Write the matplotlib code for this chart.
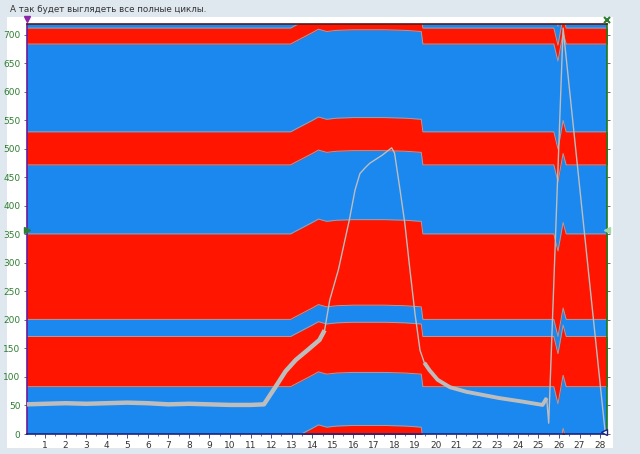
import matplotlib
matplotlib.use('Agg')
import matplotlib.pyplot as plt
import numpy as np

# band boundaries (values at the flat parts) and the common shift of all boundaries along x
base_levels = [-10, 83, 171, 201, 351, 472, 530, 684, 712, 745]
red_pairs = [(-200, -10), (83, 171), (201, 351), (472, 530), (684, 712), (745, 900)]
shift_x = [0.1, 12.95, 13.1, 14.0, 14.3, 14.7, 15.2, 16.0, 17.5, 18.5, 19.3, 19.38,
           25.75, 25.95, 26.1, 26.2, 26.35, 28.35]
shift_y = [0, 0, 3, 20, 26, 22, 24, 25, 25, 24, 22, 0,
           0, -30, 0, 20, 0, 0]

# gray trace
gray_x = [0.1, 1.0, 2.0, 3.0, 4.0, 5.0, 6.0, 7.0, 8.0, 9.0, 10.0, 11.0, 11.65,
          12.2, 12.7, 13.2, 13.8, 14.35, 14.6, 14.85, 15.27, 15.8, 16.08, 16.32,
          16.6, 16.8, 17.4, 17.86, 18.0, 18.27, 18.5, 18.75, 19.0, 19.24, 19.45,
          19.7, 20.1, 20.7, 21.5, 23.1, 24.2, 25.2, 25.4, 25.5, 26.2, 28.25]
gray_y = [52, 53, 54, 53, 54, 55, 54, 52, 53, 52, 51, 51, 52,
          82, 110, 130, 148, 165, 182, 235, 288, 375, 428, 457,
          468, 475, 489, 502, 493, 428, 370, 288, 210, 147, 125,
          112, 95, 82, 74, 63, 57, 51, 63, 19, 712, 2]

x_ticks = list(range(1, 29))
y_ticks = list(range(0, 701, 50))

RED = '#ff1500'
BLUE = '#1a88ee'
EDGE = '#b09c9c'
TRACE = '#bdbdbd'

fig = plt.figure(figsize=(6.4, 4.54), dpi=100, facecolor='#dfe7ef')
# white panel behind the chart
panel = fig.add_axes([7 / 640, 6 / 454, 606 / 640, 431 / 454], zorder=-5)
panel.set_facecolor('white')
panel.set_xticks([])
panel.set_yticks([])
for s in panel.spines.values():
    s.set_visible(False)

fig.text(10 / 640, 1 - 10 / 454, 'А так будет выглядеть все полные циклы.',
         fontsize=6.3, color='#333333', va='center', ha='left')

ax = fig.add_axes([26.7 / 640, 20 / 454, 580.6 / 640, 410.5 / 454])
ax.set_facecolor(BLUE)

sx = np.array(shift_x)
sy = np.array(shift_y)
for lo, hi in red_pairs:
    ax.fill_between(sx, lo + sy, hi + sy, color=RED, linewidth=0, zorder=1)
for b in base_levels:
    ax.plot(sx, b + sy, color=EDGE, lw=0.7, zorder=2)

gx = np.array(gray_x)
gy = np.array(gray_y)
ax.plot(gx, gy, color=TRACE, lw=1.0, zorder=3)
thick1 = gx <= 14.6
thick2 = (gx >= 19.45) & (gx <= 25.4)
ax.plot(gx[thick1], gy[thick1], color=TRACE, lw=3.2, zorder=3,
        solid_capstyle='butt')
ax.plot(gx[thick2], gy[thick2], color=TRACE, lw=2.8, zorder=3,
        solid_capstyle='butt')

ax.set_xlim(0.11, 28.35)
ax.set_ylim(0, 720)
ax.set_xticks(x_ticks)
ax.set_xticks(np.arange(0.5, 28.4, 0.5), minor=True)
ax.set_yticks(y_ticks)
ax.tick_params(axis='x', labelsize=6.5, labelcolor='#333333', length=3,
               width=0.6, color='#333366', pad=2)
ax.tick_params(axis='x', which='minor', length=1.5, width=0.5, color='#333366')
ax.tick_params(axis='y', labelsize=6.5, labelcolor='#2e7d32', length=2.5,
               width=0.6, color='#555555', pad=2)
ax.tick_params(axis='y', which='both', right=True, labelright=False)

ax.spines['left'].set_color('#6a1b9a')
ax.spines['bottom'].set_color('#1a237e')
ax.spines['right'].set_color('#1b7a1b')
ax.spines['top'].set_color('#5a1a1a')
for s in ax.spines.values():
    s.set_linewidth(1.2)

# cursor markers
ax.plot([0.11], [728], marker='v', color='#8e24aa', ms=5, clip_on=False, zorder=5)
ax.plot([28.35], [726], marker='x', color='#2e7d32', ms=5, mew=1.5, clip_on=False, zorder=5)
ax.plot([0.11], [358], marker='>', color='#2e7d32', ms=4, clip_on=False, zorder=5)
ax.plot([28.35], [358], marker='<', color='#a5d6a7', ms=4, clip_on=False, zorder=5)
ax.plot([28.2], [4], marker='<', color='#1a237e', ms=5, mfc='white', clip_on=False, zorder=5)

fig.savefig('out.png', dpi=100, facecolor=fig.get_facecolor())
